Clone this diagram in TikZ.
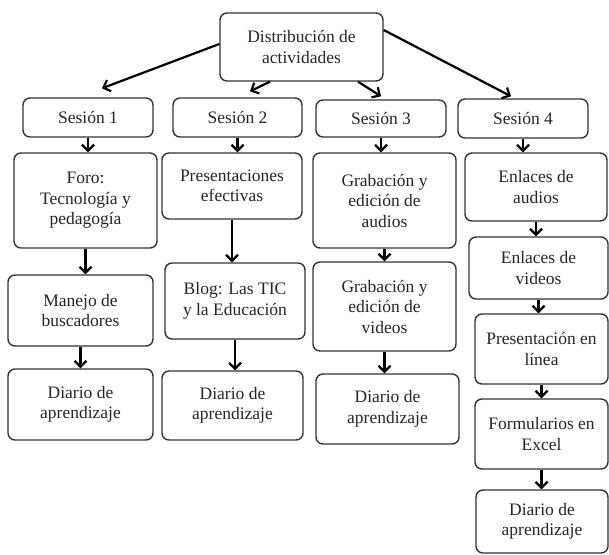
\documentclass[tikz,border=0pt]{standalone}
\usepackage{fontspec}
\setmainfont{Liberation Serif}
\usepackage{tikz}
\usetikzlibrary{arrows.meta, positioning}
\definecolor{boxline}{HTML}{333333}
\definecolor{boxtext}{HTML}{262626}
\tikzset{
	actbox/.style={
			draw=boxline,
			line width=1.4pt,
			rounded corners=7pt,
			fill=white,
			text=boxtext,
			align=center,
			inner sep=0pt,
			font=\fontsize{17.5}{20.5}\selectfont
		},
	flowarrow/.style={
			line width=2.2pt,
			-{Straight Barb[length=6pt,width=12pt]}
		}
}
\begin{document}
\begin{tikzpicture}[x=1pt, y=-1pt]
\useasboundingbox (0,0) rectangle (609,554);

\node[actbox, minimum width=163pt, minimum height=68pt] (dist) at (301.5,47) {Distribución de\\actividades};

\node[actbox, minimum width=130pt, minimum height=39pt] (s1) at (88,117.5) {Sesión 1};
\node[actbox, minimum width=129pt, minimum height=39pt] (s2) at (237.5,117.5) {Sesión 2};
\node[actbox, minimum width=130pt, minimum height=37pt] (s3) at (381,118.5) {Sesión 3};
\node[actbox, minimum width=130pt, minimum height=39pt] (s4) at (523,118.5) {Sesión 4};

% session 1
\node[actbox, minimum width=143pt, minimum height=95pt] (foro) at (85.5,200.5) {Foro:\\Tecnología y\\pedagogía};
\node[actbox, minimum width=145pt, minimum height=71pt] (manejo) at (80.5,310.5) {Manejo de\\buscadores};
\node[actbox, minimum width=145pt, minimum height=71pt] (diario1) at (80.5,404.5) {Diario de\\aprendizaje};

% session 2
\node[actbox, minimum width=140pt, minimum height=66pt] (pres) at (232,186) {Presentaciones\\efectivas};
\node[actbox, minimum width=140pt, minimum height=76pt] (blog) at (235,301) {Blog: Las TIC\\y la Educación};
\node[actbox, minimum width=141pt, minimum height=69pt] (diario2) at (232.5,405.5) {Diario de\\aprendizaje};

% session 3
\node[actbox, minimum width=143pt, minimum height=95pt] (graba) at (384.5,200.5) {Grabación y\\edición de\\audios};
\node[actbox, minimum width=143pt, minimum height=89pt] (grabv) at (384.5,306.5) {Grabación y\\edición de\\videos};
\node[actbox, minimum width=143pt, minimum height=70pt] (diario3) at (387.5,409) {Diario de\\aprendizaje};

% session 4
\node[actbox, minimum width=142pt, minimum height=68pt] (enla) at (536,187) {Enlaces de\\audios};
\node[actbox, minimum width=139pt, minimum height=62pt] (enlv) at (538.5,268) {Enlaces de\\videos};
\node[actbox, minimum width=133pt, minimum height=70pt] (presl) at (541.5,349) {Presentación en\\línea};
\node[actbox, minimum width=133pt, minimum height=70pt] (form) at (541.5,434) {Formularios en\\Excel};
\node[actbox, minimum width=132pt, minimum height=63pt] (diario4) at (542,521.5) {Diario de\\aprendizaje};

\draw[flowarrow] ([yshift=3pt]dist.west) -- ([xshift=14pt, yshift=9pt]s1.north);
\draw[flowarrow] ([xshift=-31.5pt]dist.south) -- ([xshift=12.5pt, yshift=6pt]s2.north);
\draw[flowarrow] ([xshift=56.5pt]dist.south) -- ([yshift=3pt]s3.north);
\draw[flowarrow] ([yshift=17pt]dist.east) -- ([xshift=-12pt, yshift=2pt]s4.north);

\foreach \a/\b in {s1/foro, foro/manejo, manejo/diario1,
                   s2/pres, pres/blog, blog/diario2,
                   s3/graba, graba/grabv, grabv/diario3,
                   s4/enla, enla/enlv, enlv/presl, presl/form, form/diario4}
  \draw[flowarrow] (\a.south) -- (\a.south |- \b.north);
\end{tikzpicture}
\end{document}
